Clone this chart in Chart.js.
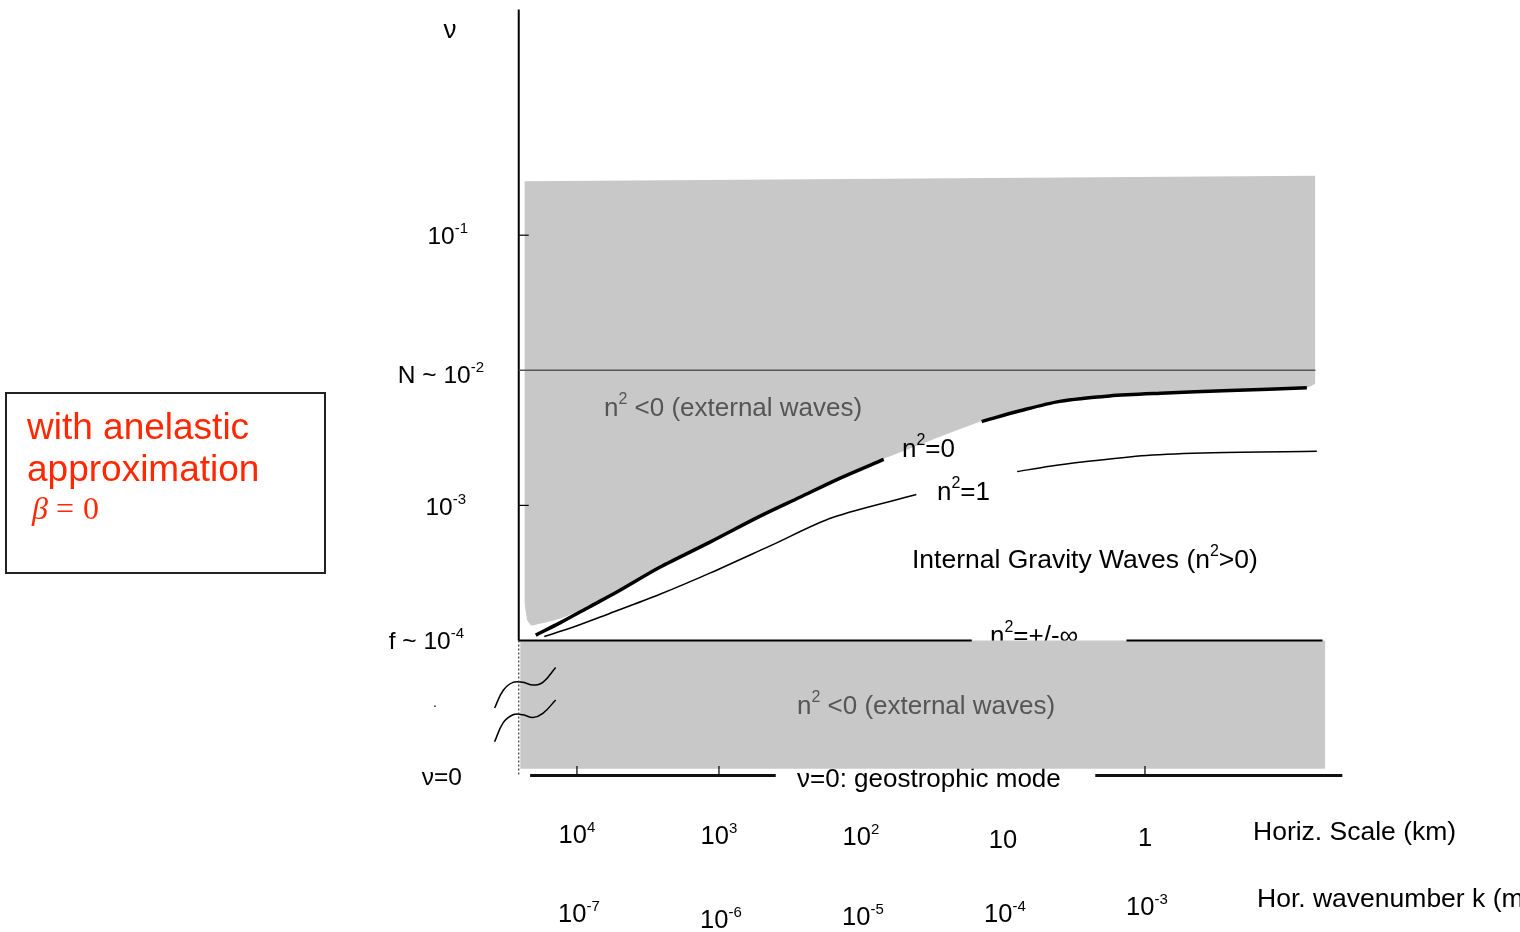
<!DOCTYPE html>
<html>
<head>
<meta charset="utf-8">
<script src="https://cdn.jsdelivr.net/npm/chart.js@4.4.0/dist/chart.umd.min.js"></script>
<style>
  html, body { margin: 0; padding: 0; background: #fff; }
  #wrap { position: relative; width: 1520px; height: 932px; }
</style>
</head>
<body>
<div id="wrap"><canvas id="myChart"></canvas></div>
<script>
// x = log10 k (m^-1), y = log10 nu (s^-1); nu = 0 is drawn at -5 (schematic)
var fLevel = -4;
var nLevel = -2;
var zeroLevel = -5;
var axisK = -7.41;
var topNu = 0.67;

// grey region n^2 < 0 above the n^2 = 0 curve
var upperEdgeK = [-7.37, -1.80];
var upperEdgeNu = [-0.60, -0.56];
var greyEdgeK = [-7.37, -7.35, -7.32, -7.12, -6.92, -6.77, -6.49, -6.13, -5.78, -5.43, -5.08, -4.85, -4.51, -4.16, -3.88, -3.60, -3.25, -2.89, -2.47, -1.86, -1.80];
var greyEdgeNu = [-3.72, -3.85, -3.89, -3.84, -3.75, -3.67, -3.50, -3.31, -3.12, -2.94, -2.77, -2.66, -2.52, -2.38, -2.30, -2.23, -2.19, -2.17, -2.15, -2.13, -2.10];

// grey band below f
var lowerBandK = [-7.40, -1.73];
var lowerBandBottom = -4.95;

// n^2 = 0 curve (thick), two pieces around its label
var n0aK = [-7.29, -7.12, -6.91, -6.70, -6.42, -6.06, -5.71, -5.43, -5.15, -4.84];
var n0aNu = [-3.96, -3.87, -3.75, -3.63, -3.46, -3.27, -3.08, -2.94, -2.80, -2.66];
var n0bK = [-4.15, -3.88, -3.60, -3.25, -2.89, -2.40, -1.86];
var n0bNu = [-2.38, -2.30, -2.23, -2.19, -2.17, -2.15, -2.13];

// n^2 = 1 curve (thin)
var n1aK = [-7.23, -7.05, -6.77, -6.42, -6.06, -5.64, -5.20, -4.61];
var n1aNu = [-3.97, -3.91, -3.80, -3.66, -3.50, -3.30, -3.09, -2.92];
var n1bK = [-3.90, -3.67, -3.46, -2.99, -2.52, -1.79];
var n1bNu = [-2.75, -2.71, -2.68, -2.63, -2.61, -2.60];

// f line and nu = 0 line, broken for their labels
var fSegK = [[axisK, -4.22], [-3.13, -1.75]];
var zeroSegK = [[-7.33, -5.60], [-3.35, -1.61]];
var nLineK = [axisK, -1.80];

// axis break marks
var breakK = [-7.58, -7.52, -7.45, -7.38, -7.31, -7.24, -7.15];
var break1Nu = [-4.50, -4.37, -4.31, -4.31, -4.33, -4.31, -4.20];
var break2Nu = [-4.75, -4.61, -4.55, -4.55, -4.57, -4.54, -4.44];

// ticks and labels
var nuTicks = [-1, -2, -3, -4, -5];
var nuTickText = [['', '10', '-1'], ['N ~ ', '10', '-2'], ['', '10', '-3'], ['f ~ ', '10', '-4'], ['ν=0', '', '']];
var nuTickMarks = [-1, -3];
var kTicks = [-7, -6, -5, -4, -3];
var kTickExp = ['-7', '-6', '-5', '-4', '-3'];
var scaleBase = ['10', '10', '10', '10', '1'];
var scaleExp = ['4', '3', '2', '', ''];
var scaleTickMarks = [-7, -6, -3];

function pts(xs, ys) {
  return xs.map(function (x, i) { return {x: x, y: Array.isArray(ys) ? ys[i] : ys}; });
}

function line(data, color, width, extra) {
  var ds = {
    data: data, showLine: true, borderColor: color, borderWidth: width,
    pointRadius: 0, fill: false, tension: 0, borderCapStyle: 'butt'
  };
  for (var key in extra) ds[key] = extra[key];
  return ds;
}

var grey = 'rgb(200,200,200)';
var datasets = [];

datasets.push(line(pts(upperEdgeK, upperEdgeNu), 'rgba(0,0,0,0)', 0, {fill: '+1', backgroundColor: grey}));
datasets.push(line(pts(greyEdgeK, greyEdgeNu), 'rgba(0,0,0,0)', 0, {tension: 0.1}));
datasets.push(line(pts(lowerBandK, fLevel), 'rgba(0,0,0,0)', 0, {fill: {value: lowerBandBottom}, backgroundColor: grey}));

datasets.push(line(pts(nLineK, nLevel), '#555', 1.5));
datasets.push(line(pts([axisK, axisK], [topNu, fLevel]), '#000', 2));
datasets.push(line(pts([axisK, axisK], [fLevel, zeroLevel]), '#333', 1.2, {borderDash: [2, 2]}));
fSegK.forEach(function (s) { datasets.push(line(pts(s, fLevel), '#000', 2)); });
zeroSegK.forEach(function (s) { datasets.push(line(pts(s, zeroLevel), '#111', 3)); });
nuTickMarks.forEach(function (v) { datasets.push(line(pts([axisK, axisK + 0.07], v), '#000', 1.2)); });
scaleTickMarks.forEach(function (v) { datasets.push(line(pts([v, v], [zeroLevel + 0.07, zeroLevel]), '#000', 1.2)); });

datasets.push(line(pts(n0aK, n0aNu), '#000', 3.5, {tension: 0.3}));
datasets.push(line(pts(n0bK, n0bNu), '#000', 3.5, {tension: 0.3}));
datasets.push(line(pts(n1aK, n1aNu), '#000', 1.5, {tension: 0.3}));
datasets.push(line(pts(n1bK, n1bNu), '#000', 1.5, {tension: 0.3}));
datasets.push(line(pts(breakK, break1Nu), '#000', 1.5, {tension: 0.4}));
datasets.push(line(pts(breakK, break2Nu), '#000', 1.5, {tension: 0.4}));

var sans = '"Liberation Sans", Arial, sans-serif';

function drawParts(ctx, parts, x, y, size, align, color, family) {
  family = family || sans;
  var supSize = Math.round(size * 0.6);
  var w = 0;
  parts.forEach(function (p) {
    ctx.font = (p[1] ? supSize : size) + 'px ' + family;
    w += ctx.measureText(p[0]).width;
  });
  var cx = align === 'right' ? x - w : (align === 'center' ? x - w / 2 : x);
  ctx.fillStyle = color;
  ctx.textAlign = 'left';
  ctx.textBaseline = 'alphabetic';
  parts.forEach(function (p) {
    ctx.font = (p[1] ? supSize : size) + 'px ' + family;
    ctx.fillText(p[0], cx, p[1] ? y - size * 0.45 : y);
    cx += ctx.measureText(p[0]).width;
  });
}

var textPlugin = {
  id: 'texts',
  beforeDraw: function (chart) {
    // labels partly hidden by the grey band
    var ctx = chart.ctx;
    ctx.save();
    drawParts(ctx, [['n'], ['2', 1], ['=+/-∞']], 990, 644, 26, 'left', '#000');
    drawParts(ctx, [['ν=0: geostrophic mode']], 797, 787, 26, 'left', '#000');
    ctx.restore();
  },
  afterDatasetsDraw: function (chart) {
    var ctx = chart.ctx;
    var xs = chart.scales.x, ys = chart.scales.y;
    ctx.save();

    // vertical axis
    drawParts(ctx, [['ν']], 450, 38, 26, 'center', '#000');
    var nuRight = [468, 484, 466, 464, 462];
    var nuDy = [9, 13, 10, 9, 9];
    nuTicks.forEach(function (v, i) {
      var t = nuTickText[i];
      var parts = [[t[0] + t[1]]];
      if (t[2]) parts.push([t[2], 1]);
      drawParts(ctx, parts, nuRight[i], ys.getPixelForValue(v) + nuDy[i], 24.5, 'right', '#000');
    });
    drawParts(ctx, [['.']], 433, 707, 14, 'left', '#000');

    // horizontal scale and wavenumber rows
    var scaleBaseline = [843, 844, 845, 848, 846];
    var kBaseline = [922, 928, 925, 922, 915];
    kTicks.forEach(function (v, i) {
      var px = xs.getPixelForValue(v);
      var p1 = [[scaleBase[i]]];
      if (scaleExp[i]) p1.push([scaleExp[i], 1]);
      drawParts(ctx, p1, px, scaleBaseline[i], 25.5, 'center', '#000');
      drawParts(ctx, [['10'], [kTickExp[i], 1]], px + 2, kBaseline[i], 25.5, 'center', '#000');
    });
    drawParts(ctx, [['Horiz. Scale (km)']], 1253, 840, 26.5, 'left', '#000');
    drawParts(ctx, [['Hor. wavenumber k (m'], ['-1', 1], [')']], 1257, 907, 26.5, 'left', '#000');

    // region labels
    drawParts(ctx, [['n'], ['2', 1], [' <0 (external waves)']], 604, 416, 26, 'left', '#555');
    drawParts(ctx, [['n'], ['2', 1], ['=0']], 902, 457, 26, 'left', '#000');
    drawParts(ctx, [['n'], ['2', 1], ['=1']], 937, 500, 26, 'left', '#000');
    drawParts(ctx, [['Internal Gravity Waves (n'], ['2', 1], ['>0)']], 912, 568, 26.5, 'left', '#000');
    drawParts(ctx, [['n'], ['2', 1], [' <0 (external waves)']], 797, 714, 26, 'left', '#555');

    // note box
    ctx.strokeStyle = '#222';
    ctx.lineWidth = 2;
    ctx.strokeRect(6, 393, 319, 180);
    drawParts(ctx, [['with anelastic']], 27, 439, 37, 'left', '#ff2800');
    drawParts(ctx, [['approximation']], 27, 481, 37, 'left', '#ff2800');
    ctx.fillStyle = '#ff2800';
    ctx.font = 'italic 32px "Liberation Serif", serif';
    ctx.fillText('β', 32, 519);
    ctx.font = '32px "Liberation Serif", serif';
    ctx.fillText('=', 56, 519);
    ctx.fillText('0', 83, 519);

    ctx.restore();
  }
};

var ctx = document.getElementById('myChart').getContext('2d');
var myChart = new Chart(ctx, {
  type: 'scatter',
  data: { datasets: datasets },
  options: {
    responsive: true,
    maintainAspectRatio: false,
    animation: false,
    layout: { padding: 0 },
    scales: {
      x: { type: 'linear', display: false, min: -11.063, max: -0.359 },
      y: { type: 'linear', display: false, min: -6.158, max: 0.741 }
    },
    plugins: {
      legend: { display: false },
      tooltip: { enabled: false },
      filler: { drawTime: 'beforeDatasetsDraw' }
    }
  },
  plugins: [textPlugin]
});
</script>
</body>
</html>
